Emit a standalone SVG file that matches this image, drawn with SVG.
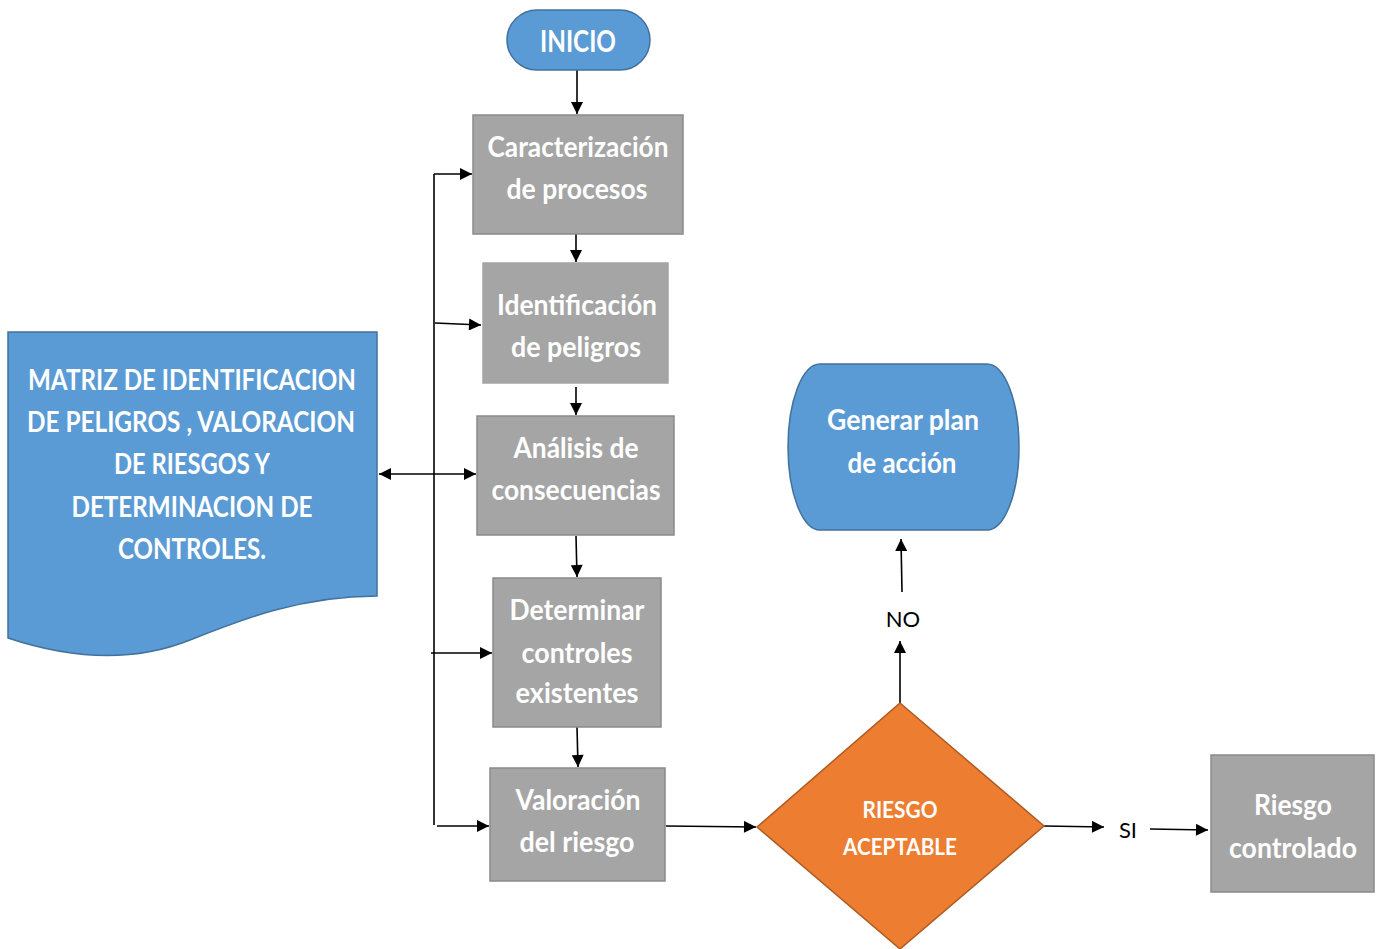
<svg xmlns="http://www.w3.org/2000/svg" width="1378" height="949" viewBox="0 0 1378 949">
  <style>
    .bg { fill: #ffffff; }
    .blue { fill: #5B9BD5; stroke: #41719C; stroke-width: 1.5; }
    .grey { fill: #A5A5A5; stroke: #8A8A8A; stroke-width: 1.5; }
    .orange { fill: #ED7D31; stroke: #AE5A21; stroke-width: 1.5; }
    .lbl { font-family: Lato, "Open Sans", "Liberation Sans", sans-serif; font-weight: 700; fill: #ffffff; text-anchor: middle; }
    .box { font-size: 29px; }
    .doc { font-size: 28px; }
    .dec { font-size: 22px; }
    .tag { font-family: Lato, "Open Sans", "Liberation Sans", sans-serif; font-size: 22px; fill: #000000; text-anchor: middle; }
    .wire { fill: none; stroke: #000000; stroke-width: 1.6; }
  </style>
  <defs>
    <marker id="arrow" viewBox="0 0 10 10" refX="10" refY="5" markerWidth="13" markerHeight="12" markerUnits="userSpaceOnUse" orient="auto-start-reverse">
      <path d="M0,0 L10,5 L0,10 Z" fill="#000000"/>
    </marker>
  </defs>

  <rect class="bg" x="0" y="0" width="1378" height="949"/>

  <!-- connectors -->
  <g id="connectors">
    <line class="wire" x1="577" y1="70" x2="577" y2="114" marker-end="url(#arrow)"/>
    <line class="wire" x1="576" y1="234" x2="576" y2="262" marker-end="url(#arrow)"/>
    <line class="wire" x1="576" y1="387" x2="576" y2="415" marker-end="url(#arrow)"/>
    <line class="wire" x1="576" y1="536" x2="577" y2="577" marker-end="url(#arrow)"/>
    <line class="wire" x1="577" y1="727" x2="578" y2="767" marker-end="url(#arrow)"/>
    <!-- feedback rail on the left -->
    <line class="wire" x1="434" y1="174" x2="434" y2="825"/>
    <line class="wire" x1="434" y1="174" x2="472" y2="174" marker-end="url(#arrow)"/>
    <line class="wire" x1="435" y1="323" x2="481" y2="325" marker-end="url(#arrow)"/>
    <line class="wire" x1="379" y1="474" x2="476" y2="474" marker-start="url(#arrow)" marker-end="url(#arrow)"/>
    <line class="wire" x1="431" y1="653" x2="492" y2="653" marker-end="url(#arrow)"/>
    <line class="wire" x1="437" y1="826" x2="489" y2="826" marker-end="url(#arrow)"/>
    <!-- decision paths -->
    <line class="wire" x1="666" y1="826" x2="756" y2="827" marker-end="url(#arrow)"/>
    <line class="wire" x1="900" y1="703" x2="900" y2="641" marker-end="url(#arrow)"/>
    <line class="wire" x1="902" y1="592" x2="901" y2="539" marker-end="url(#arrow)"/>
    <line class="wire" x1="1044" y1="826" x2="1104" y2="827" marker-end="url(#arrow)"/>
    <line class="wire" x1="1150" y1="829" x2="1208" y2="830" marker-end="url(#arrow)"/>
    <text class="tag" x="903" y="627">NO</text>
    <text class="tag" x="1128" y="838">SI</text>
  </g>

  <g id="inicio">
    <rect class="blue" x="507" y="10" width="143" height="60" rx="30" ry="30"/>
    <text class="lbl" x="578" y="52" font-size="30" textLength="76" lengthAdjust="spacingAndGlyphs">INICIO</text>
  </g>

  <g id="caracterizacion">
    <rect class="grey" x="473" y="115" width="210" height="119"/>
    <text class="lbl box" x="578" y="157" textLength="181" lengthAdjust="spacingAndGlyphs">Caracterización</text>
    <text class="lbl box" x="577" y="199" textLength="141" lengthAdjust="spacingAndGlyphs">de procesos</text>
  </g>

  <g id="identificacion">
    <rect class="grey" x="483" y="263" width="185" height="120" style="stroke:#A5A5A5"/>
    <text class="lbl box" x="577" y="315" textLength="160" lengthAdjust="spacingAndGlyphs">Identificación</text>
    <text class="lbl box" x="576" y="357" textLength="130" lengthAdjust="spacingAndGlyphs">de peligros</text>
  </g>

  <g id="analisis">
    <rect class="grey" x="477" y="416" width="197" height="119"/>
    <text class="lbl box" x="576" y="458" textLength="125" lengthAdjust="spacingAndGlyphs">Análisis de</text>
    <text class="lbl box" x="576" y="500" textLength="169" lengthAdjust="spacingAndGlyphs">consecuencias</text>
  </g>

  <g id="determinar">
    <rect class="grey" x="493" y="578" width="168" height="149"/>
    <text class="lbl box" x="577" y="620" textLength="135" lengthAdjust="spacingAndGlyphs">Determinar</text>
    <text class="lbl box" x="577" y="663" textLength="111" lengthAdjust="spacingAndGlyphs">controles</text>
    <text class="lbl box" x="577" y="703" textLength="123" lengthAdjust="spacingAndGlyphs">existentes</text>
  </g>

  <g id="valoracion">
    <rect class="grey" x="490" y="768" width="175" height="113"/>
    <text class="lbl box" x="578" y="810" textLength="125" lengthAdjust="spacingAndGlyphs">Valoración</text>
    <text class="lbl box" x="577" y="852" textLength="115" lengthAdjust="spacingAndGlyphs">del riesgo</text>
  </g>

  <g id="matriz">
    <path class="blue" d="M8,332 H377 V596 C300,596 240,620 190,640 C140,660 80,662 8,638 Z"/>
    <text class="lbl doc" x="192" y="390" textLength="328" lengthAdjust="spacingAndGlyphs">MATRIZ DE IDENTIFICACION</text>
    <text class="lbl doc" x="191" y="432" textLength="328" lengthAdjust="spacingAndGlyphs">DE PELIGROS , VALORACION</text>
    <text class="lbl doc" x="192" y="474" textLength="156" lengthAdjust="spacingAndGlyphs">DE RIESGOS Y</text>
    <text class="lbl doc" x="192" y="517" textLength="241" lengthAdjust="spacingAndGlyphs">DETERMINACION DE</text>
    <text class="lbl doc" x="192" y="559" textLength="148" lengthAdjust="spacingAndGlyphs">CONTROLES.</text>
  </g>

  <g id="plan-accion">
    <rect class="blue" x="788" y="364" width="231" height="166" rx="32" ry="83"/>
    <text class="lbl box" x="903" y="430" textLength="152" lengthAdjust="spacingAndGlyphs">Generar plan</text>
    <text class="lbl box" x="902" y="473" textLength="109" lengthAdjust="spacingAndGlyphs">de acción</text>
  </g>

  <g id="riesgo-aceptable">
    <polygon class="orange" points="900,703 1044,826 900,949 757,827"/>
    <text class="lbl dec" x="900" y="818" textLength="75" lengthAdjust="spacingAndGlyphs">RIESGO</text>
    <text class="lbl dec" x="900" y="855" textLength="114" lengthAdjust="spacingAndGlyphs">ACEPTABLE</text>
  </g>

  <g id="riesgo-controlado">
    <rect class="grey" x="1211" y="755" width="163" height="137"/>
    <text class="lbl box" x="1293" y="815" textLength="78" lengthAdjust="spacingAndGlyphs">Riesgo</text>
    <text class="lbl box" x="1293" y="858" textLength="128" lengthAdjust="spacingAndGlyphs">controlado</text>
  </g>
</svg>
